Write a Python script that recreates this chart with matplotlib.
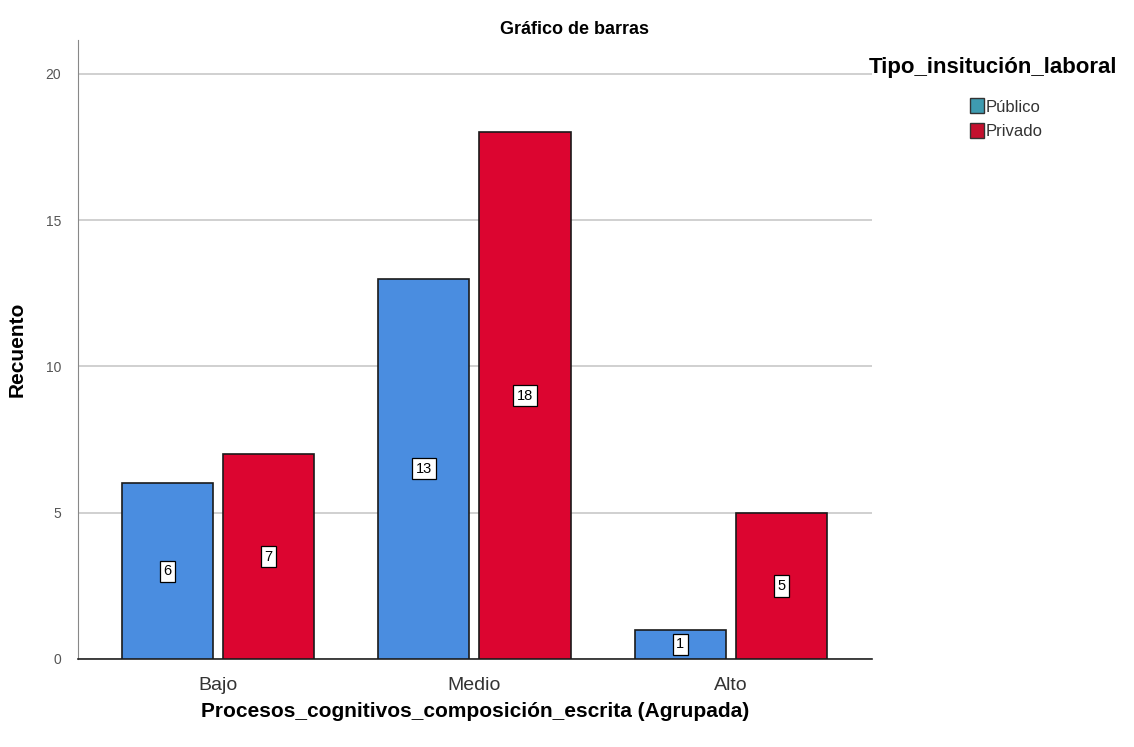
import numpy as np
import matplotlib.pyplot as plt
from matplotlib.patches import Patch

plt.rcParams["font.family"] = ["Liberation Sans", "DejaVu Sans"]

categories = ["Bajo", "Medio", "Alto"]
publico = [6, 13, 1]
privado = [7, 18, 5]
series_names = ["Público", "Privado"]

fig = plt.figure(figsize=(11.34, 7.47), dpi=100)
ax = fig.add_axes([78 / 1134, 1 - 659 / 747, (872 - 78) / 1134, (659 - 40) / 747])

x = np.arange(len(categories))
width = 0.355
offset = 0.197
bars_pub = ax.bar(x - offset, publico, width, color="#4a8de0", edgecolor="#1a1a1a", linewidth=1.2, zorder=3)
bars_pri = ax.bar(x + offset, privado, width, color="#dc0530", edgecolor="#1a1a1a", linewidth=1.2, zorder=3)

# value tags in the middle of each bar
for bars, vals in ((bars_pub, publico), (bars_pri, privado)):
    for b, v in zip(bars, vals):
        ax.text(b.get_x() + b.get_width() / 2, v / 2, str(v), ha="center", va="center",
                fontsize=10.5, color="black", zorder=4,
                bbox=dict(boxstyle="square,pad=0.25", fc="white", ec="black", lw=0.9))

ax.set_xlim(-0.546, 2.55)
ax.set_ylim(0, 21.16)
ax.set_yticks([0, 5, 10, 15, 20])
ax.set_xticks(x)
ax.set_xticklabels(categories, fontsize=14, color="#333333")
ax.tick_params(axis="y", length=0, labelsize=10, labelcolor="#555555", pad=12)
ax.tick_params(axis="x", length=0, pad=13)
ax.yaxis.grid(True, color="#c8c8c8", linewidth=1.2, zorder=0)
ax.set_axisbelow(True)

for side in ("top", "right"):
    ax.spines[side].set_visible(False)
ax.spines["left"].set_color("#888888")
ax.spines["bottom"].set_color("#222222")
ax.spines["bottom"].set_linewidth(1.2)

ax.set_ylabel("Recuento", fontsize=15, fontweight="bold", labelpad=14)
ax.set_xlabel("Procesos_cognitivos_composición_escrita (Agrupada)", fontsize=15,
              fontweight="bold", labelpad=6)
fig.text(575 / 1134, 1 - 30 / 747, "Gráfico de barras", ha="center", va="center",
         fontsize=13, fontweight="bold")

handles = [Patch(facecolor="#3e9bb0", edgecolor="#333333"),
           Patch(facecolor="#c4102e", edgecolor="#333333")]
fig.text(993 / 1134, 1 - 67 / 747, "Tipo_insitución_laboral", ha="center", va="center",
         fontsize=16, fontweight="bold")
leg = fig.legend(handles, series_names, loc="upper left", bbox_to_anchor=(962 / 1134, 1 - 90 / 747),
                 frameon=False, fontsize=12, handlelength=0.8, handleheight=1.0,
                 handletextpad=0.1, labelspacing=0.5, borderpad=0)
for t in leg.get_texts():
    t.set_color("#333333")

fig.savefig("out.png", dpi=100, facecolor="white")
